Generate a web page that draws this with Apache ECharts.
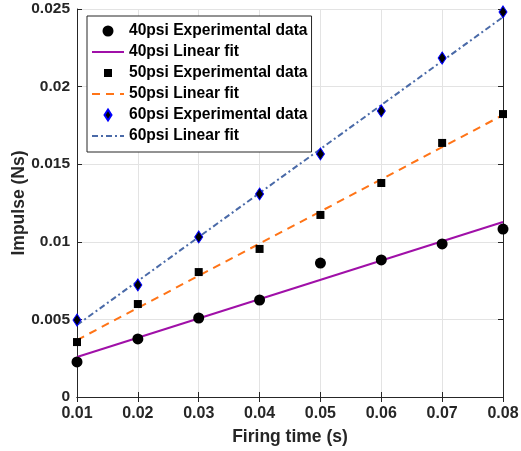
<!DOCTYPE html>
<html>
<head>
<meta charset="utf-8">
<script src="https://cdn.jsdelivr.net/npm/echarts@6/dist/echarts.min.js"></script>
<style>
  html, body { margin: 0; padding: 0; background: #fff; }
  #chart { width: 521px; height: 451px; }
</style>
</head>
<body>
<div id="chart"></div>
<script>
// firing times (s)
var firingTime = [0.01, 0.02, 0.03, 0.04, 0.05, 0.06, 0.07, 0.08];

// measured impulse (Ns)
var exp40 = [0.00226, 0.00374, 0.00509, 0.00625, 0.00863, 0.00883, 0.00986, 0.01082];
var exp50 = [0.00354, 0.00599, 0.00805, 0.00954, 0.01173, 0.01379, 0.01637, 0.01823];
var exp60 = [0.00496, 0.00722, 0.01031, 0.01308, 0.01566, 0.01843, 0.02184, 0.02481];

// linear fits, end points
var fitX = [0.01, 0.08];
var fit40 = [0.00258, 0.01128];
var fit50 = [0.00367, 0.01817];
var fit60 = [0.00464, 0.02448];

function pairs(xs, ys) {
    var out = [];
    for (var i = 0; i < xs.length; i++) {
        out.push([xs[i], ys[i]]);
    }
    return out;
}

var FONT = 'Liberation Sans';
var axisColor = '#262626';

// legend icons: the extra moveTo points pad the box so the marks stay small
var iconCircle = 'path://M0,0 M14,14 M1.5,7 A5.5,5.5 0 1,0 12.5,7 A5.5,5.5 0 1,0 1.5,7 Z';
var iconSquare = 'path://M0,0 M14,14 M3,3 L11,3 L11,11 L3,11 Z';
var iconDiamond = 'path://M0,0 M14,14 M7,1.5 L10.5,7 L7,12.5 L3.5,7 Z';
var noSymbol = { opacity: 0 };

var myChart = echarts.init(document.getElementById('chart'));

var option = {
    animation: false,
    backgroundColor: '#fff',
    textStyle: { fontFamily: FONT },
    grid: {
        left: 77, right: 18, top: 9, bottom: 54,
        outerBoundsMode: 'none'
    },
    legend: {
        data: [
            { name: '40psi Experimental data', icon: iconCircle },
            { name: '40psi Linear fit', itemStyle: noSymbol },
            { name: '50psi Experimental data', icon: iconSquare },
            { name: '50psi Linear fit', itemStyle: noSymbol },
            { name: '60psi Experimental data', icon: iconDiamond },
            { name: '60psi Linear fit', itemStyle: noSymbol }
        ],
        orient: 'vertical',
        left: 87,
        top: 16,
        padding: [7, 4, 8, 4],
        itemWidth: 32,
        itemHeight: 14,
        itemGap: 5,
        backgroundColor: '#fff',
        borderColor: axisColor,
        borderWidth: 1,
        borderRadius: 0,
        textStyle: { fontFamily: FONT, fontWeight: 'bold', fontSize: 15.6, color: '#000' }
    },
    xAxis: [{
        type: 'value',
        min: 0.01, max: 0.08, interval: 0.01,
        name: 'Firing time (s)',
        nameLocation: 'middle',
        nameGap: 31,
        nameMoveOverlap: false,
        nameTextStyle: { fontFamily: FONT, fontWeight: 'bold', fontSize: 17.5, color: '#262626' },
        axisLine: { show: true, lineStyle: { color: axisColor, width: 1 } },
        axisTick: { show: true, inside: true, length: 5, lineStyle: { color: axisColor } },
        axisLabel: {
            margin: 9, fontFamily: FONT, fontWeight: 'bold', fontSize: 16, color: '#262626',
            formatter: function (v) { return v.toFixed(2); }
        },
        splitLine: { show: true, lineStyle: { color: '#e3e3e3', width: 1 } }
    }, {
        type: 'value', position: 'top',
        min: 0.01, max: 0.08, interval: 0.01,
        axisLine: { show: true, lineStyle: { color: axisColor, width: 1 } },
        axisTick: { show: true, inside: true, length: 5, lineStyle: { color: axisColor } },
        axisLabel: { show: false },
        splitLine: { show: false }
    }],
    yAxis: [{
        type: 'value',
        min: 0, max: 0.025, interval: 0.005,
        name: 'Impulse (Ns)',
        nameLocation: 'middle',
        nameGap: 49,
        nameMoveOverlap: false,
        nameTextStyle: { fontFamily: FONT, fontWeight: 'bold', fontSize: 17.5, color: '#262626' },
        axisLine: { show: true, lineStyle: { color: axisColor, width: 1 } },
        axisTick: { show: true, inside: true, length: 5, lineStyle: { color: axisColor } },
        axisLabel: { margin: 7, fontFamily: FONT, fontWeight: 'bold', fontSize: 15.5, color: '#262626' },
        splitLine: { show: true, lineStyle: { color: '#e3e3e3', width: 1 } }
    }, {
        type: 'value', position: 'right',
        min: 0, max: 0.025, interval: 0.005,
        axisLine: { show: true, lineStyle: { color: axisColor, width: 1 } },
        axisTick: { show: true, inside: true, length: 5, lineStyle: { color: axisColor } },
        axisLabel: { show: false },
        splitLine: { show: false }
    }],
    series: [
        {
            name: '40psi Experimental data',
            type: 'scatter',
            symbol: 'circle',
            symbolSize: 11,
            itemStyle: { color: '#000', opacity: 1 },
            data: pairs(firingTime, exp40),
            z: 5
        },
        {
            name: '40psi Linear fit',
            type: 'line',
            symbol: 'none',
            lineStyle: { color: '#a010a8', width: 2, type: 'solid' },
            itemStyle: { color: '#a010a8' },
            data: pairs(fitX, fit40),
            z: 3
        },
        {
            name: '50psi Experimental data',
            type: 'scatter',
            symbol: 'rect',
            symbolSize: 8,
            itemStyle: { color: '#000', opacity: 1 },
            data: pairs(firingTime, exp50),
            z: 5
        },
        {
            name: '50psi Linear fit',
            type: 'line',
            symbol: 'none',
            lineStyle: { color: '#ff7417', width: 2, type: [8, 6] },
            itemStyle: { color: '#ff7417' },
            data: pairs(fitX, fit50),
            z: 3
        },
        {
            name: '60psi Experimental data',
            type: 'scatter',
            symbol: 'diamond',
            symbolSize: [8, 12],
            itemStyle: { color: '#000', borderColor: '#0000ff', borderWidth: 1, opacity: 1 },
            data: pairs(firingTime, exp60),
            z: 5
        },
        {
            name: '60psi Linear fit',
            type: 'line',
            symbol: 'none',
            lineStyle: { color: '#4a6aa8', width: 2, type: [6, 3, 2, 3] },
            itemStyle: { color: '#4a6aa8' },
            data: pairs(fitX, fit60),
            z: 3
        }
    ]
};

myChart.setOption(option);
</script>
</body>
</html>
